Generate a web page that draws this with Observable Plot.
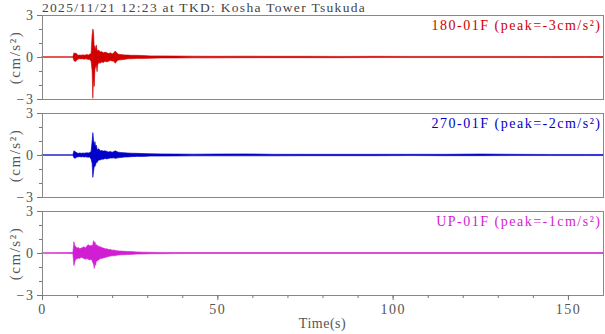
<!DOCTYPE html>
<html><head><meta charset="utf-8">
<script src="https://cdn.jsdelivr.net/npm/d3@7"></script>
<script src="https://cdn.jsdelivr.net/npm/@observablehq/plot@0.6"></script>
<style>
body{margin:0;background:#fff;}
#wrap{position:relative;width:605px;height:334px;font-family:"Liberation Serif","DejaVu Serif",serif;color:#555;}
#title{position:absolute;left:42px;top:1px;font-size:13.5px;line-height:14px;color:#444;white-space:nowrap;letter-spacing:1.3px;}
#xlabel{position:absolute;left:0;width:645px;text-align:center;top:316px;font-size:14px;color:#555;letter-spacing:0.5px;}
</style></head><body>
<div id="wrap"><div id="chart"></div><div id="title">2025/11/21 12:23 at TKD: Kosha Tower Tsukuda</div><div id="xlabel">Time(s)</div></div>
<script>
const channels = ["180-01F", "270-01F", "UP-01F"];
const peakLabels = ["180-01F (peak=-3cm/s²)", "270-01F (peak=-2cm/s²)", "UP-01F (peak=-1cm/s²)"];
const colors = ["#d00000", "#0000c8", "#d21ed2"];
const xTicks = [0, 50, 100, 150];
const yTicks = [-3, 0, 3];

const T = [0, 8.8, 9.1, 9.4, 9.7, 10.0, 10.4, 10.8, 11.2, 11.6, 12.0, 12.4, 12.8, 13.2, 13.6, 14.0, 14.3, 14.5, 14.7, 14.9, 15.1, 15.3, 15.5, 15.7, 15.9, 16.2, 16.6, 17.0, 17.5, 18.0, 18.5, 19.0, 19.5, 20.0, 20.5, 20.9, 21.3, 21.8, 22.5, 23.5, 24.5, 25.5, 27, 29, 31, 34, 38, 43, 50, 58, 66, 75, 85, 95, 105, 115, 125, 135, 145, 155, 160];

const ns_hi = [0.02, 0.02, 0.30, 0.25, 0.28, 0.18, 0.12, 0.15, 0.12, 0.16, 0.13, 0.15, 0.18, 0.14, 0.20, 0.25, 1.6, 2.0, 1.8, 0.6, 0.8, 0.5, 0.86, 0.5, 0.45, 0.5, 0.35, 0.4, 0.3, 0.35, 0.3, 0.25, 0.3, 0.22, 0.3, 0.43, 0.3, 0.2, 0.18, 0.15, 0.14, 0.12, 0.12, 0.1, 0.08, 0.08, 0.07, 0.06, 0.05, 0.06, 0.05, 0.05, 0.04, 0.05, 0.04, 0.04, 0.04, 0.04, 0.03, 0.04, 0.03];
const ns_lo = [-0.02, -0.02, -0.25, -0.33, -0.28, -0.2, -0.15, -0.12, -0.14, -0.12, -0.16, -0.13, -0.15, -0.18, -0.17, -0.3, -1.0, -2.95, -1.5, -2.1, -0.9, -0.7, -0.6, -1.05, -0.55, -0.4, -0.45, -0.35, -0.4, -0.3, -0.35, -0.3, -0.25, -0.28, -0.3, -0.45, -0.3, -0.22, -0.2, -0.17, -0.13, -0.13, -0.1, -0.1, -0.09, -0.07, -0.07, -0.06, -0.06, -0.05, -0.05, -0.05, -0.05, -0.04, -0.04, -0.04, -0.04, -0.04, -0.04, -0.03, -0.03];

const ew_hi = [0.02, 0.02, 0.3, 0.25, 0.2, 0.15, 0.12, 0.15, 0.12, 0.14, 0.13, 0.15, 0.16, 0.14, 0.18, 0.25, 1.0, 1.6, 1.1, 0.7, 0.95, 0.6, 0.7, 0.45, 0.4, 0.45, 0.3, 0.32, 0.28, 0.3, 0.25, 0.22, 0.25, 0.2, 0.25, 0.3, 0.25, 0.2, 0.18, 0.16, 0.14, 0.13, 0.12, 0.1, 0.09, 0.08, 0.07, 0.06, 0.07, 0.08, 0.05, 0.05, 0.05, 0.05, 0.05, 0.05, 0.07, 0.05, 0.04, 0.04, 0.04];
const ew_lo = [-0.02, -0.02, -0.2, -0.24, -0.18, -0.15, -0.13, -0.12, -0.14, -0.12, -0.15, -0.13, -0.15, -0.16, -0.15, -0.3, -0.6, -1.6, -1.2, -0.8, -0.83, -0.7, -0.5, -0.55, -0.45, -0.35, -0.35, -0.3, -0.3, -0.25, -0.28, -0.25, -0.22, -0.22, -0.2, -0.25, -0.22, -0.2, -0.18, -0.15, -0.14, -0.12, -0.1, -0.1, -0.08, -0.08, -0.07, -0.06, -0.06, -0.06, -0.06, -0.05, -0.05, -0.05, -0.04, -0.05, -0.05, -0.04, -0.04, -0.04, -0.04];

const ud_hi = [0.02, 0.03, 0.8, 0.5, 0.45, 0.35, 0.4, 0.3, 0.35, 0.4, 0.45, 0.35, 0.5, 0.6, 0.5, 0.55, 0.5, 0.6, 0.88, 0.7, 0.8, 0.55, 0.6, 0.5, 0.55, 0.45, 0.45, 0.4, 0.35, 0.3, 0.3, 0.25, 0.25, 0.2, 0.22, 0.18, 0.17, 0.15, 0.14, 0.12, 0.11, 0.1, 0.08, 0.06, 0.05, 0.04, 0.04, 0.03, 0.03, 0.03, 0.03, 0.03, 0.03, 0.03, 0.03, 0.03, 0.03, 0.03, 0.03, 0.03, 0.03];
const ud_lo = [-0.02, -0.03, -0.9, -0.6, -0.4, -0.45, -0.35, -0.4, -0.3, -0.35, -0.4, -0.45, -0.4, -0.45, -0.5, -0.45, -0.55, -0.7, -0.8, -1.1, -0.7, -0.9, -0.55, -0.6, -0.5, -0.5, -0.4, -0.4, -0.35, -0.32, -0.28, -0.25, -0.22, -0.2, -0.2, -0.2, -0.16, -0.15, -0.13, -0.12, -0.11, -0.1, -0.08, -0.07, -0.05, -0.05, -0.04, -0.03, -0.03, -0.03, -0.03, -0.03, -0.03, -0.03, -0.03, -0.03, -0.03, -0.03, -0.03, -0.03, -0.03];

const HI = [ns_hi, ew_hi, ud_hi];
const LO = [ns_lo, ew_lo, ud_lo];
const rows = [];
channels.forEach((c, i) => T.forEach((t, j) => rows.push({ch: c, t, hi: HI[i][j], lo: LO[i][j]})));
const labelRows = channels.map((c, i) => ({ch: c, text: peakLabels[i]}));

const gray = "#777";
const chart = Plot.plot({
  width: 605, height: 334,
  marginTop: 15, marginBottom: 39, marginLeft: 42, marginRight: 2,
  style: {fontFamily: "'Liberation Serif', serif", fontSize: "14px", color: "#555", background: "white", overflow: "visible", letterSpacing: "1.5px"},
  x: {domain: [0, 160], axis: null},
  y: {domain: [-3, 3], axis: null},
  fy: {domain: channels, paddingInner: 14 / 98, paddingOuter: 0, round: false, axis: null, label: null},
  color: {domain: channels, range: colors},
  marks: [
    Plot.areaY(rows, {fy: "ch", x: "t", y1: "lo", y2: "hi", fill: "ch", stroke: "ch", strokeWidth: 0.6}),
    Plot.frame({stroke: "#888"}),
    Plot.axisY({ticks: yTicks, tickSize: 5, tickPadding: 3, stroke: gray, tickFormat: "d", label: null}),
    Plot.axisY({ticks: [-2, -1, 1, 2], tickSize: 3, stroke: gray, tickFormat: () => "", label: null}),
    Plot.axisX({ticks: xTicks, tickSize: 5, tickPadding: 4, stroke: gray, tickFormat: "d", label: null}),
    Plot.axisX({ticks: d3.range(10, 160, 10), tickSize: 3, stroke: gray, tickFormat: () => "", label: null}),
    Plot.text(labelRows, {fy: "ch", frameAnchor: "top-right", text: "text", fill: "ch", dx: -2, dy: 5, fontSize: 14, lineAnchor: "top", style: "letter-spacing:1.2px"}),
    Plot.text(labelRows, {fy: "ch", frameAnchor: "left", text: () => "(cm/s²)", rotate: -90, dx: -27, textAnchor: "middle", lineAnchor: "middle", fill: "#555", fontSize: 15})
  ]
});
document.getElementById("chart").appendChild(chart);
</script>
</body></html>
